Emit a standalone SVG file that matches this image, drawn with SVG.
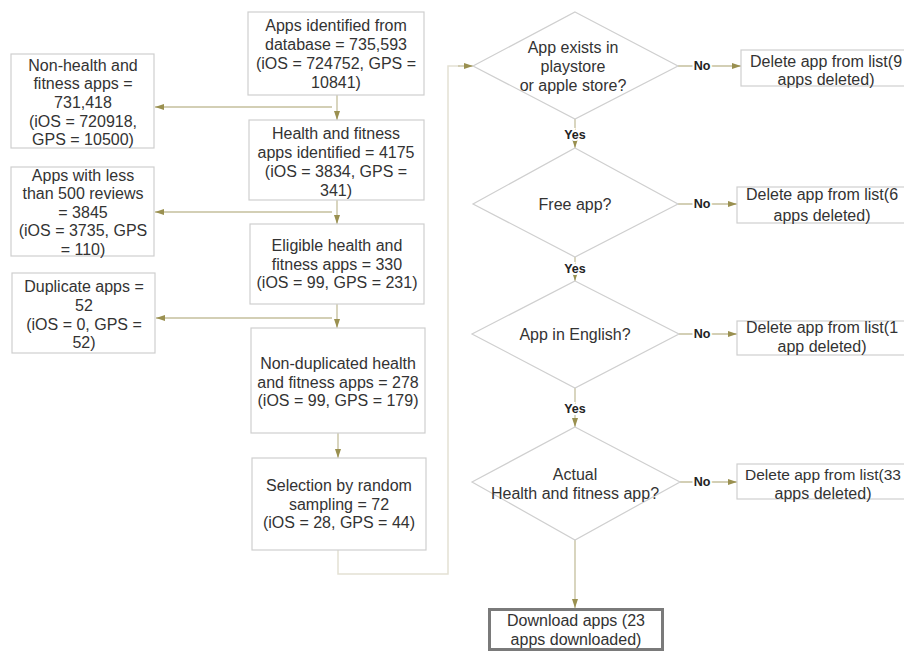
<svg xmlns="http://www.w3.org/2000/svg" width="904" height="651" viewBox="0 0 904 651">
<defs>
<marker id="ah" markerWidth="9" markerHeight="6" refX="9" refY="3" orient="auto" markerUnits="userSpaceOnUse">
<path d="M0,0 L9,3 L0,6 Z" fill="#9a9050"/>
</marker>
</defs>
<style>
.box{fill:#fff;stroke:#cfcfcf;stroke-width:1.2}
.dia{fill:#fff;stroke:#cfcfcf;stroke-width:1.2}
.t{font-family:"Liberation Sans",Arial,sans-serif;font-size:16px;fill:#333;text-anchor:middle}
.lbl{font-family:"Liberation Sans",Arial,sans-serif;font-size:12.5px;font-weight:bold;fill:#222;text-anchor:middle;stroke:#fff;stroke-width:4;paint-order:stroke}
.c{fill:none;stroke:#c4bf9c;stroke-width:1.3}
.loop{fill:none;stroke:#e4e1d4;stroke-width:1.5}
</style>
<rect width="904" height="651" fill="#fff"/>

<g id="connectors">
<path class="c" d="M337,95 V120" marker-end="url(#ah)"/>
<path class="c" d="M332,107 H155" marker-end="url(#ah)"/>
<path class="c" d="M337,200 V224" marker-end="url(#ah)"/>
<path class="c" d="M332,212 H155" marker-end="url(#ah)"/>
<path class="c" d="M337,304 V328" marker-end="url(#ah)"/>
<path class="c" d="M332,318 H156" marker-end="url(#ah)"/>
<path class="c" d="M338,433 V458" marker-end="url(#ah)"/>
<path class="loop" d="M338,550 V574 H448 V66 H460"/>
<path class="c" d="M458,66 H473" marker-end="url(#ah)"/>
<path class="c" d="M575,119 V148" marker-end="url(#ah)"/>
<path class="c" d="M575,257 V281" marker-end="url(#ah)"/>
<path class="c" d="M575,388 V427" marker-end="url(#ah)"/>
<path class="c" d="M575,540 V608" marker-end="url(#ah)"/>
<path class="c" d="M678,66 H741" marker-end="url(#ah)"/>
<path class="c" d="M678,204 H737" marker-end="url(#ah)"/>
<path class="c" d="M679,334 H737" marker-end="url(#ah)"/>
<path class="c" d="M680,482 H737" marker-end="url(#ah)"/>
<text class="lbl" x="575" y="139">Yes</text>
<text class="lbl" x="575" y="273">Yes</text>
<text class="lbl" x="575" y="413">Yes</text>
<text class="lbl" x="702" y="70">No</text>
<text class="lbl" x="702" y="208">No</text>
<text class="lbl" x="702" y="338">No</text>
<text class="lbl" x="702" y="486">No</text>
</g>

<g id="n-identified">
<rect class="box" x="248" y="12" width="176" height="83"/>
<text class="t" x="336" y="31">Apps identified from</text>
<text class="t" x="336" y="50">database = 735,593</text>
<text class="t" x="336" y="69">(iOS = 724752, GPS =</text>
<text class="t" x="336" y="88">10841)</text>
</g>
<g id="n-health">
<rect class="box" x="249" y="120" width="175" height="80"/>
<text class="t" x="336" y="139">Health and fitness</text>
<text class="t" x="336" y="158">apps identified = 4175</text>
<text class="t" x="336" y="177">(iOS = 3834, GPS =</text>
<text class="t" x="336" y="196">341)</text>
</g>
<g id="n-eligible">
<rect class="box" x="250" y="224" width="174" height="80"/>
<text class="t" x="337" y="251">Eligible health and</text>
<text class="t" x="337" y="270">fitness apps = 330</text>
<text class="t" x="337" y="288">(iOS = 99, GPS = 231)</text>
</g>
<g id="n-nondup">
<rect class="box" x="251" y="328" width="174" height="105"/>
<text class="t" x="338" y="369">Non-duplicated health</text>
<text class="t" x="338" y="388">and fitness apps = 278</text>
<text class="t" x="338" y="406">(iOS = 99, GPS = 179)</text>
</g>
<g id="n-selection">
<rect class="box" x="252" y="458" width="174" height="92"/>
<text class="t" x="339" y="491">Selection by random</text>
<text class="t" x="339" y="510">sampling = 72</text>
<text class="t" x="339" y="528">(iOS = 28, GPS = 44)</text>
</g>

<g id="n-nonhealth">
<rect class="box" x="11" y="54" width="143" height="94"/>
<text class="t" x="83" y="71">Non-health and</text>
<text class="t" x="83" y="89">fitness apps =</text>
<text class="t" x="83" y="108">731,418</text>
<text class="t" x="83" y="127">(iOS = 720918,</text>
<text class="t" x="83" y="145">GPS = 10500)</text>
</g>
<g id="n-lessreviews">
<rect class="box" x="11" y="167" width="143" height="89"/>
<text class="t" x="83" y="181">Apps with less</text>
<text class="t" x="83" y="199">than 500 reviews</text>
<text class="t" x="83" y="218">= 3845</text>
<text class="t" x="83" y="236">(iOS = 3735, GPS</text>
<text class="t" x="83" y="255">= 110)</text>
</g>
<g id="n-duplicate">
<rect class="box" x="12" y="273" width="143" height="80"/>
<text class="t" x="84" y="292">Duplicate apps =</text>
<text class="t" x="84" y="311">52</text>
<text class="t" x="84" y="330">(iOS = 0, GPS =</text>
<text class="t" x="84" y="348">52)</text>
</g>

<g id="d-exists">
<polygon class="dia" points="575,12 678,66 575,119 473,66"/>
<text class="t" x="573" y="53">App exists in</text>
<text class="t" x="573" y="72">playstore</text>
<text class="t" x="573" y="91">or apple store?</text>
</g>
<g id="d-free">
<polygon class="dia" points="575,148 678,204 575,257 473,204"/>
<text class="t" x="575" y="210">Free app?</text>
</g>
<g id="d-english">
<polygon class="dia" points="575,281 679,334 575,388 472,334"/>
<text class="t" x="575" y="340">App in English?</text>
</g>
<g id="d-actual">
<polygon class="dia" points="575,427 680,482 575,540 472,482"/>
<text class="t" x="575" y="480">Actual</text>
<text class="t" x="575" y="499">Health and fitness app?</text>
</g>

<g id="n-del1">
<rect class="box" x="741" y="50" width="170" height="36"/>
<text class="t" x="826" y="67">Delete app from list(9</text>
<text class="t" x="826" y="85">apps deleted)</text>
</g>
<g id="n-del2">
<rect class="box" x="737" y="187" width="174" height="36"/>
<text class="t" x="822" y="200">Delete app from list(6</text>
<text class="t" x="822" y="221">apps deleted)</text>
</g>
<g id="n-del3">
<rect class="box" x="737" y="321" width="174" height="34"/>
<text class="t" x="822" y="333">Delete app from list(1</text>
<text class="t" x="822" y="352">app deleted)</text>
</g>
<g id="n-del4">
<rect class="box" x="737" y="464" width="174" height="35"/>
<text class="t" x="823" y="480" style="font-size:15.5px">Delete app from list(33</text>
<text class="t" x="823" y="499">apps deleted)</text>
</g>

<g id="n-download">
<rect x="489.5" y="609.5" width="173" height="40" fill="#fff" stroke="#7a7a7a" stroke-width="3"/>
<text class="t" x="576" y="626">Download apps (23</text>
<text class="t" x="576" y="645">apps downloaded)</text>
</g>
</svg>
